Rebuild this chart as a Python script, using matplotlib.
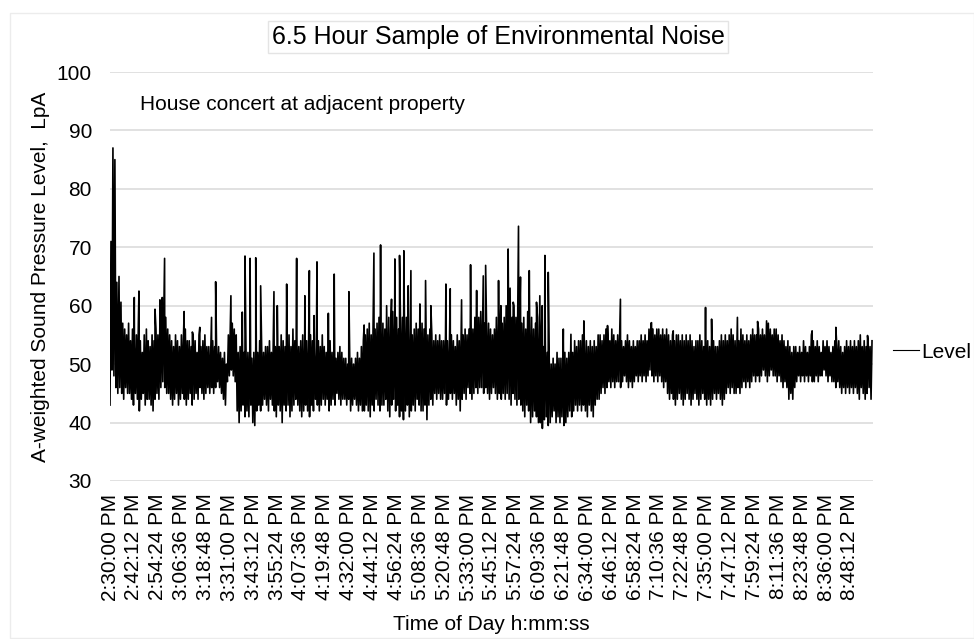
import numpy as np
import matplotlib
matplotlib.use("Agg")
import matplotlib.pyplot as plt
from matplotlib.patches import Rectangle

plt.rcParams['font.family'] = ['Liberation Sans', 'DejaVu Sans']

# Per-minute band of the A-weighted level (dB), 14:30 onwards, 390 minutes
level_lo = [
    43, 49, 48, 46, 45, 46, 45, 44, 46, 45,
    45, 44, 43, 45, 44, 42, 44, 45, 43, 44,
    44, 43, 42, 44, 45, 44, 46, 47, 46, 45,
    45, 44, 43, 44, 45, 43, 44, 45, 44, 43,
    44, 45, 43, 44, 45, 44, 46, 45, 44, 45,
    46, 45, 46, 45, 46, 47, 46, 45, 44, 43,
    47, 48, 49, 48, 47, 42, 40, 42, 43, 41,
    42, 41, 43, 40, 39.5, 42, 43, 42, 43, 44,
    43, 42, 44, 43, 42, 41, 43, 42, 40, 43,
    42, 43, 41, 42, 43, 44, 43, 42, 41, 42,
    43, 42, 41, 43, 42, 44, 43, 42, 43, 44,
    43, 44, 42, 43, 44, 43, 45, 44, 43, 44,
    44, 43, 44, 42, 43, 44, 43, 42, 43, 42,
    42, 43, 42, 41, 43, 42, 44, 43, 42, 43,
    43, 44, 42, 41, 43, 44, 42, 43, 41, 42,
    40.5, 42, 43, 41, 42, 43, 42, 44, 43, 42,
    42, 43, 40.5, 43, 44, 43, 45, 44, 45, 44,
    44, 45, 43, 44, 45, 44, 45, 43, 44, 42,
    44, 45, 44, 46, 45, 44, 45, 46, 45, 46,
    46, 45, 46, 45, 44, 45, 46, 45, 44, 45,
    44, 45, 44, 45, 44, 43, 45, 44, 43, 44,
    43, 42, 41, 43, 42, 40, 41, 42, 41, 40,
    40, 39, 40.5, 41, 39.5, 40, 41, 42, 40, 41,
    40, 41, 39.5, 40, 41, 42, 41, 42, 43, 42,
    43, 42, 43, 42, 41, 43, 42, 41, 43, 44,
    44, 45, 46, 45, 46, 47, 46, 47, 46, 47,
    47, 46, 47, 48, 47, 46, 47, 46, 47, 48,
    47, 48, 47, 48, 47, 48, 49, 48, 47, 48,
    47, 48, 47, 46, 47, 45, 44, 45, 44, 43,
    44, 45, 44, 43, 44, 45, 44, 43, 44, 45,
    44, 43, 44, 45, 44, 43, 44, 43, 44, 45,
    44, 45, 44, 43, 44, 45, 46, 45, 46, 45,
    45, 46, 45, 46, 47, 46, 47, 46, 47, 48,
    47, 48, 47, 48, 49, 48, 47, 48, 49, 48,
    48, 47, 48, 47, 46, 47, 46, 44, 45, 44,
    46, 47, 48, 47, 48, 47, 48, 47, 48, 47,
    47, 48, 47, 48, 48, 49, 48, 47, 48, 47,
    47, 46, 47, 46, 45, 46, 45, 46, 45, 46,
    45, 46, 45, 44, 46, 45, 44, 45, 46, 44,
]
level_hi = [
    71, 87, 85, 64, 62, 58, 57, 56, 55, 57,
    54, 56, 53, 55, 57, 54, 52, 55, 53, 54,
    53, 55, 54, 56, 55, 57, 58, 59, 58, 56,
    55, 54, 53, 55, 54, 53, 55, 54, 56, 54,
    54, 53, 55, 54, 52, 55, 53, 54, 55, 53,
    53, 52, 54, 53, 52, 53, 52, 51, 52, 50,
    55, 56, 57, 56, 55, 52, 53, 51, 52, 53,
    52, 53, 51, 52, 53, 52, 54, 53, 52, 53,
    53, 54, 52, 55, 53, 54, 53, 55, 54, 53,
    54, 55, 53, 56, 54, 55, 53, 54, 55, 53,
    54, 53, 55, 54, 52, 53, 54, 53, 55, 53,
    52, 53, 54, 52, 53, 51, 52, 53, 52, 51,
    51, 50, 52, 51, 50, 51, 52, 51, 53, 54,
    55, 56, 57, 55, 58, 56, 57, 58, 56, 57,
    56, 57, 58, 56, 59, 57, 58, 56, 57, 58,
    57, 58, 56, 57, 55, 56, 57, 56, 58, 57,
    56, 57, 55, 56, 55, 54, 55, 54, 55, 54,
    54, 55, 54, 53, 55, 54, 53, 55, 54, 55,
    55, 56, 55, 56, 57, 56, 58, 57, 58, 59,
    58, 57, 56, 57, 56, 55, 56, 58, 57, 56,
    57, 58, 60, 62, 63, 58, 60, 58, 61, 59,
    57, 58, 56, 59, 57, 58, 56, 57, 58, 56,
    55, 53, 54, 52, 51, 50, 51, 50, 52, 51,
    51, 50, 52, 51, 52, 53, 52, 54, 53, 54,
    54, 55, 53, 54, 53, 54, 53, 54, 53, 55,
    55, 54, 55, 56, 55, 54, 56, 55, 54, 55,
    55, 54, 53, 54, 55, 54, 53, 54, 53, 54,
    54, 55, 54, 55, 54, 56, 57, 56, 55, 56,
    56, 55, 56, 55, 56, 55, 54, 55, 54, 55,
    55, 54, 55, 54, 55, 54, 55, 54, 53, 54,
    54, 55, 54, 53, 55, 54, 53, 55, 54, 53,
    53, 54, 55, 54, 55, 54, 55, 56, 55, 54,
    55, 54, 56, 55, 54, 55, 54, 55, 56, 55,
    55, 56, 55, 56, 55, 56, 57, 56, 55, 56,
    56, 55, 54, 55, 54, 53, 54, 53, 52, 53,
    53, 52, 53, 52, 54, 53, 52, 53, 55, 54,
    53, 54, 53, 52, 54, 53, 54, 53, 52, 53,
    54, 53, 54, 53, 52, 53, 54, 53, 54, 53,
    54, 53, 54, 55, 53, 54, 53, 54, 53, 54,
]

# Short loud events (minute after 14:30, peak dB)
spike_min = [4.6, 5.6, 12.4, 14.8, 18.6, 23.0, 25.5, 26.7, 27.9, 37.9,
             42.1, 45.9, 51.9, 54.0, 61.8, 67.6, 69.0, 71.6, 74.5, 77.0,
             83.8, 85.5, 90.3, 95.4, 99.6, 101.9, 104.3, 105.8, 111.6, 114.6,
             122.1, 129.9, 134.9, 138.3, 141.4, 143.9, 145.6, 148.0, 150.2, 152.4,
             153.8, 158.4, 161.3, 164.0, 171.7, 173.9, 179.7, 184.3, 187.4, 190.8,
             192.0, 198.6, 199.8, 203.5, 206.1, 208.8, 209.8, 214.3, 218.0, 219.7,
             220.9, 222.3, 224.0, 231.7, 235.6, 242.2, 254.3, 260.9, 276.8, 287.9,
             304.4, 307.5, 320.7, 331.0, 335.6, 358.9, 371.0, 387.2]
spike_db = [65, 60.6, 61.4, 62.5, 56, 59.4, 61, 61.4, 68.1, 59,
            55.5, 56.3, 58, 64.1, 61.7, 58.9, 68.5, 68.1, 68.2, 63.4,
            62.4, 60, 63.7, 68.1, 61.7, 66, 58.3, 67.5, 58.7, 65.4,
            62.4, 56.7, 69, 70.4, 60, 61.1, 68, 68.6, 69.4, 63.4,
            66, 60.3, 64.3, 60, 63.7, 62.9, 61, 67, 62.6, 65.1,
            66.9, 64.3, 60, 69.7, 60.6, 73.6, 64.9, 66, 60.6, 61.7,
            60, 68.6, 65.7, 56, 55.1, 57.4, 56.6, 61.1, 57.1, 55.7,
            59.7, 57.7, 58, 57.3, 57.4, 55.7, 56.3, 54.9]

tick_labels = [
    "2:30:00 PM", "2:42:12 PM", "2:54:24 PM", "3:06:36 PM", "3:18:48 PM",
    "3:31:00 PM", "3:43:12 PM", "3:55:24 PM", "4:07:36 PM", "4:19:48 PM",
    "4:32:00 PM", "4:44:12 PM", "4:56:24 PM", "5:08:36 PM", "5:20:48 PM",
    "5:33:00 PM", "5:45:12 PM", "5:57:24 PM", "6:09:36 PM", "6:21:48 PM",
    "6:34:00 PM", "6:46:12 PM", "6:58:24 PM", "7:10:36 PM", "7:22:48 PM",
    "7:35:00 PM", "7:47:12 PM", "7:59:24 PM", "8:11:36 PM", "8:23:48 PM",
    "8:36:00 PM", "8:48:12 PM",
]

# seconds since 2:30 PM; low point then high point inside each minute
n = len(level_lo)
t_core = np.column_stack([np.arange(n) * 60.0, np.arange(n) * 60.0 + 30]).ravel()
v_core = np.column_stack([level_lo, level_hi]).ravel()
t_all = np.concatenate([t_core, np.array(spike_min) * 60.0])
v_all = np.concatenate([v_core, spike_db])
order = np.argsort(t_all, kind="stable")
t_all, v_all = t_all[order], v_all[order]

W, H = 974, 639
fig = plt.figure(figsize=(W / 100, H / 100), dpi=100)
fig.patch.set_facecolor("white")

# plot area in pixels: x 110..873, y 72..481
ax = fig.add_axes([110 / W, 1 - 481 / H, (873 - 110) / W, (481 - 72) / H])
ax.plot(t_all, v_all, color="black", lw=1.2, label="Level")

ax.set_xlim(0, 23400)
ax.set_ylim(30, 100)
ax.set_yticks(range(30, 101, 10))
ax.set_xticks(np.arange(len(tick_labels)) * 732)
ax.set_xticklabels(tick_labels, rotation=90, fontsize=15)
ax.tick_params(axis="y", length=0, pad=13, labelsize=15)
ax.tick_params(axis="x", length=0, pad=9)
ax.grid(axis="y", color="#d9d9d9", lw=1.1)
ax.set_axisbelow(True)
for s in ax.spines.values():
    s.set_visible(False)

ax.set_xlabel("Time of Day h:mm:ss", fontsize=15, labelpad=10)
ax.set_ylabel("A-weighted Sound Pressure Level,  LpA", fontsize=15, labelpad=5)

ax.text(920, 94.5, "House concert at adjacent property", fontsize=15, va="center")

fig.text(498 / W, 1 - 37 / H, "6.5 Hour Sample of Environmental Noise",
         fontsize=18, ha="center", va="center",
         bbox=dict(boxstyle="square,pad=0.15", fc="white", ec="#e4e4e4", lw=1))

leg = ax.legend(loc="center left", bbox_to_anchor=(893 / W, 1 - 352 / H),
                bbox_transform=fig.transFigure, frameon=False, fontsize=15,
                handlelength=1.25, handletextpad=0.1, borderpad=0, borderaxespad=0)
for h in leg.get_lines():
    h.set_linewidth(0.8)

# light chart border
fig.patches.append(Rectangle((10 / W, 1 / H), 1 - 10 / W, 1 - 14 / H,
                             transform=fig.transFigure, fill=False,
                             ec="#ececec", lw=1))

fig.savefig("out.png", dpi=100)
